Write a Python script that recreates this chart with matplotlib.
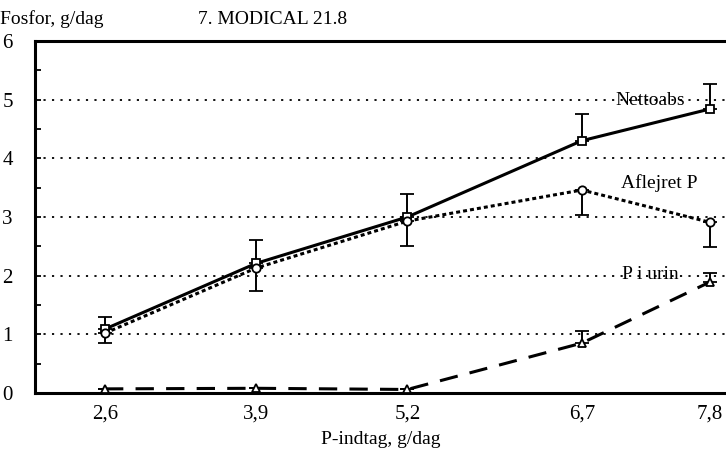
import matplotlib
matplotlib.use("Agg")
import matplotlib.pyplot as plt
import numpy as np

plt.rcParams['font.family'] = ['Liberation Serif', 'DejaVu Serif']

x_vals = [2.6, 3.9, 5.2, 6.7, 7.8]
x_labels = ["2,6", "3,9", "5,2", "6,7", "7,8"]

netto = [1.09, 2.21, 3.0, 4.30, 4.84]
netto_err_up = [0.20, 0.39, 0.40, 0.45, 0.42]

aflejret = [1.02, 2.13, 2.93, 3.46, 2.91]
aflejret_err_dn = [0.16, 0.39, 0.43, 0.43, 0.42]

urin = [0.07, 0.08, 0.06, 0.85, 1.89]
urin_err_up = [0.0, 0.0, 0.0, 0.20, 0.15]

fig = plt.figure(figsize=(7.26, 4.55), dpi=100)
ax = fig.add_axes([0.0482, 0.1363, 0.9518, 0.7736])

ax.set_xlim(1.998, 7.94)
ax.set_ylim(0, 6)

for yv in [1, 2, 3, 4, 5]:
    ax.axhline(yv, color='black', linestyle=(0, (1.2, 3.5)), linewidth=1.3, zorder=1)

lw = 2.2
common = dict(color='black', markersize=6, markerfacecolor='white',
              markeredgecolor='black', markeredgewidth=1.3, ecolor='black',
              elinewidth=1.4, capsize=5, capthick=3, zorder=3)
ax.errorbar(x_vals, netto, yerr=[np.zeros(5), netto_err_up],
            linestyle='-', linewidth=lw, marker='s', **common)
ax.errorbar(x_vals, aflejret, yerr=[aflejret_err_dn, np.zeros(5)],
            linestyle=(0, (1.3, 1.0)), linewidth=lw, marker='o', **common)
ax.errorbar(x_vals, urin, yerr=[np.zeros(5), urin_err_up],
            linestyle=(0, (6, 4)), linewidth=lw, marker='^', **common)

fs = 14
ax.text(7.29, 4.98, "Nettoabs", ha='center', va='center', fontsize=fs, zorder=4)
ax.text(7.37, 3.58, "Aflejret P", ha='center', va='center', fontsize=fs, zorder=4)
ax.text(7.29, 2.02, "P i urin", ha='center', va='center', fontsize=fs, zorder=4)

ax.set_xticks(x_vals)
ax.set_xticklabels(x_labels, fontsize=fs + 1)
ax.tick_params(axis='x', length=0, pad=8)
ax.set_yticks([0, 1, 2, 3, 4, 5, 6])
ax.set_yticks(np.arange(0.5, 6, 1.0), minor=True)
ax.tick_params(axis='y', which='both', direction='in', length=4, width=1.3,
               labelsize=fs + 1, pad=16)

for s in ['left', 'bottom', 'top']:
    ax.spines[s].set_linewidth(2.2)
ax.spines['right'].set_visible(False)

ax.set_xlabel("P-indtag, g/dag", fontsize=fs, labelpad=6)
fig.text(0.0, 0.958, "Fosfor, g/dag", fontsize=fs, ha='left', va='center')
fig.text(0.375, 0.958, "7. MODICAL 21.8", fontsize=fs, ha='center', va='center')

fig.savefig("out.png", dpi=100)
